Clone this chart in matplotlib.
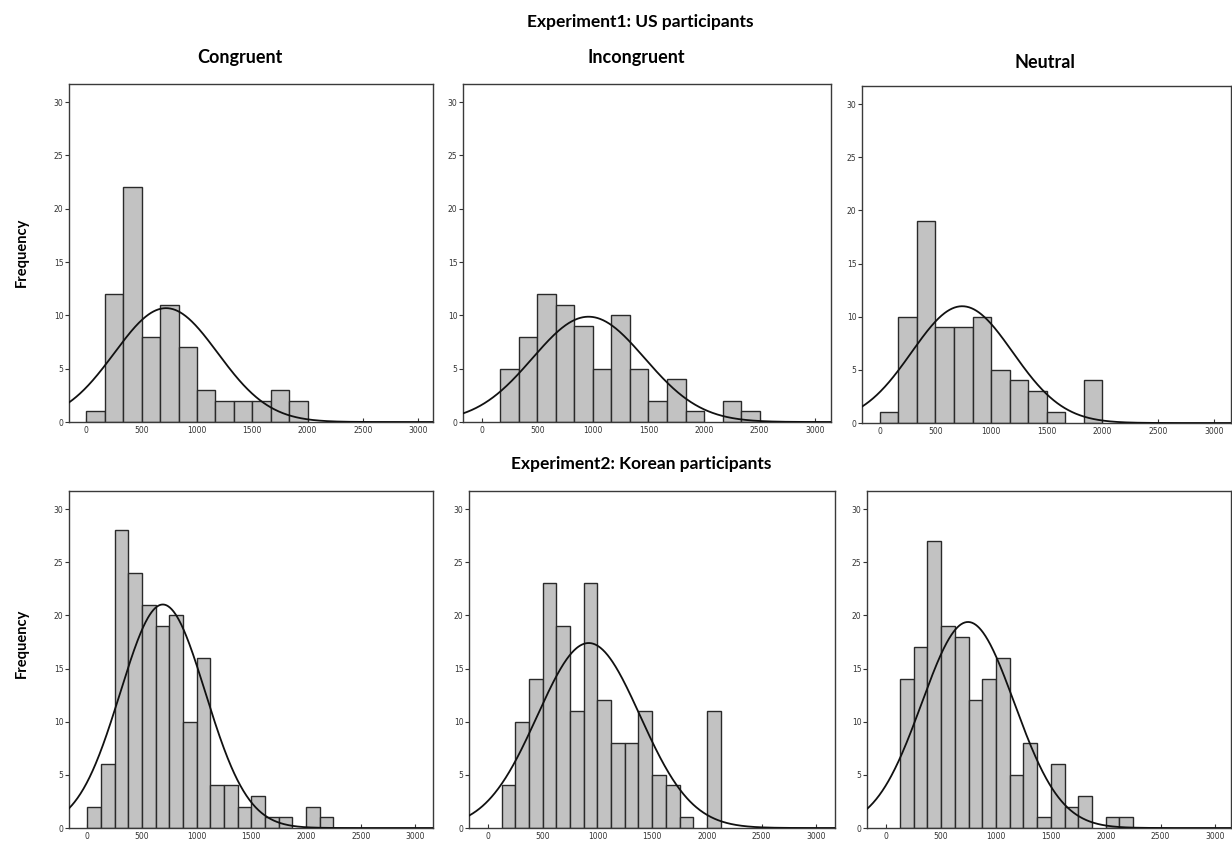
import numpy as np
import matplotlib
matplotlib.use("Agg")
import matplotlib.pyplot as plt

# ---------------- data ----------------
conditions = ["Congruent", "Incongruent", "Neutral"]
experiment_titles = ["Experiment1: US participants", "Experiment2: Korean participants"]

# Experiment 1: bins of width 3000/18 starting at 0
exp1_bin_width = 3000 / 18
exp1_congruent = [1, 12, 22, 8, 11, 7, 3, 2, 2, 2, 3, 2]
exp1_incongruent = [0, 5, 8, 12, 11, 9, 5, 10, 5, 2, 4, 1, 0, 2, 1]
exp1_neutral = [1, 10, 19, 9, 9, 10, 5, 4, 3, 1, 0, 4]

# Experiment 2: bins of width 125 starting at 0
exp2_bin_width = 125
exp2_congruent = [2, 6, 28, 24, 21, 19, 20, 10, 16, 4, 4, 2, 3, 1, 1, 0, 2, 1]
exp2_incongruent = [0, 4, 10, 14, 23, 19, 11, 23, 12, 8, 8, 11, 5, 4, 1, 0, 11]
exp2_neutral = [0, 14, 17, 27, 19, 18, 12, 14, 16, 5, 8, 1, 6, 2, 3, 0, 1, 1]

# fitted normal curve parameters (mean, sd)
exp1_means = [720, 960, 740]
exp1_sds = [467, 505, 454]
exp2_means = [690, 920, 745]
exp2_sds = [389, 470, 422]

x_ticks = [0, 500, 1000, 1500, 2000, 2500, 3000]
y_ticks = [0, 5, 10, 15, 20, 25, 30]

# ---------------- figure ----------------
W, H = 1232, 844
fig = plt.figure(figsize=(W / 100, H / 100), dpi=100)

title_font = ["Lato", "DejaVu Sans"]

# axes rectangles in pixels: (left, top, right, bottom)
rects = [
    [(69, 84, 433, 422), (463, 84, 831, 422), (862, 86, 1231, 423)],
    [(69, 491, 433, 828), (469, 491, 835, 828), (867, 491, 1231, 828)],
]
xlims = [
    [(-157, 3133), (-171, 3144), (-160, 3155)],
    [(-168, 3161), (-174, 3171), (-176, 3142)],
]

data = [
    (exp1_bin_width, [exp1_congruent, exp1_incongruent, exp1_neutral], exp1_means, exp1_sds),
    (exp2_bin_width, [exp2_congruent, exp2_incongruent, exp2_neutral], exp2_means, exp2_sds),
]

for r, (bw, series, means, sds) in enumerate(data):
    for c in range(3):
        l, t, rr, b = rects[r][c]
        ax = fig.add_axes([l / W, 1 - b / H, (rr - l) / W, (b - t) / H])
        counts = np.array(series[c], dtype=float)
        lefts = np.arange(len(counts)) * bw
        mask = counts > 0
        ax.bar(lefts[mask], counts[mask], width=bw, align="edge",
               color="#c2c2c2", edgecolor="#2a2a2a", linewidth=1.0, zorder=2)
        n = counts.sum()
        xs = np.linspace(xlims[r][c][0], xlims[r][c][1], 600)
        ys = n * bw / (sds[c] * np.sqrt(2 * np.pi)) * np.exp(-0.5 * ((xs - means[c]) / sds[c]) ** 2)
        ax.plot(xs, ys, color="#111111", linewidth=1.3, zorder=3)
        ax.set_xlim(*xlims[r][c])
        ax.set_ylim(0, 31.7)
        ax.set_xticks(x_ticks)
        ax.set_yticks(y_ticks)
        ax.tick_params(axis="x", direction="in", length=3, width=0.8, labelsize=5.5,
                       colors="#333333", pad=3)
        ax.tick_params(axis="y", direction="out", length=3, width=0.8, labelsize=5.5,
                       colors="#333333", pad=1)
        for s in ax.spines.values():
            s.set_color("#3a3a3a")
            s.set_linewidth(1.0)

# titles
fig.text(640 / W, 1 - 22 / H, experiment_titles[0], ha="center", va="center",
         fontsize=12.5, fontweight="bold", family=title_font)
fig.text(641 / W, 1 - 464 / H, experiment_titles[1], ha="center", va="center",
         fontsize=12.5, fontweight="bold", family=title_font)
for x, y, name in [(240, 58, conditions[0]), (636, 58, conditions[1]), (1045, 62, conditions[2])]:
    fig.text(x / W, 1 - y / H, name, ha="center", va="center",
             fontsize=13, fontweight="bold", family=title_font)
for y in [252, 643]:
    fig.text(22 / W, 1 - y / H, "Frequency", ha="center", va="center", rotation=90,
             fontsize=10.5, fontweight="bold", family=title_font)

fig.savefig("out.png", dpi=100)
